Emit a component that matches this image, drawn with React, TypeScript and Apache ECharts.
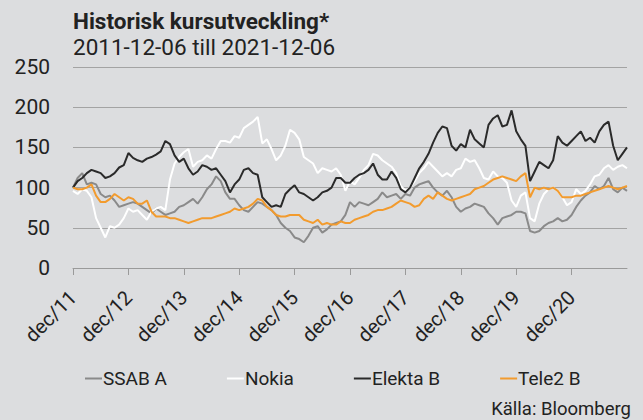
import React, { useEffect, useRef } from "react";
import * as echarts from "echarts";

const monthNames = ["dec", "jan", "feb", "mar", "apr", "maj", "jun", "jul", "aug", "sep", "okt", "nov"];
const startYear = 11;
const monthCount = 121;

const yTicks = [0, 50, 100, 150, 200, 250];

const ssab = [
  100, 112, 118, 104, 106, 104, 92, 88, 90, 84, 76, 78,
  80, 82, 80, 76, 72, 68, 74, 70, 66, 68, 70, 76,
  78, 82, 86, 80, 88, 98, 104, 114, 108, 94, 86, 86,
  78, 72, 70, 76, 82, 80, 76, 72, 66, 56, 50, 46,
  38, 36, 32, 40, 50, 52, 44, 48, 54, 56, 58, 66,
  82, 76, 82, 80, 78, 82, 86, 94, 88, 90, 92, 86,
  92, 90, 100, 104, 106, 108, 100, 94, 90, 96, 88, 76,
  70, 74, 76, 80, 78, 76, 68, 62, 54, 62, 64, 66,
  70, 70, 68, 46, 44, 46, 52, 56, 58, 62, 58, 60,
  66, 76, 84, 90, 94, 102, 98, 102, 112, 98, 94, 100,
  96,
];

const nokia = [
  96, 92, 98, 96, 88, 62, 50, 38, 52, 50, 54, 62,
  74, 70, 72, 66, 60, 70, 74, 76, 72, 110, 130, 138,
  144, 148, 126, 132, 134, 140, 136, 148, 158, 158, 156, 164,
  162, 174, 178, 182, 188, 155, 160, 148, 134, 140, 152, 172,
  168, 160, 138, 134, 130, 118, 124, 122, 120, 124, 116, 96,
  108, 104, 112, 122, 128, 142, 140, 134, 130, 126, 118, 102,
  96, 100, 108, 118, 124, 132, 126, 120, 114, 118, 114, 122,
  124, 136, 132, 134, 124, 112, 110, 120, 114, 112, 106, 84,
  76, 90, 94, 62, 58, 80, 92, 98, 100, 96, 88, 78,
  82, 98, 92, 96, 104, 114, 116, 124, 128, 122, 126, 128,
  124,
];

const elekta = [
  100, 108, 112, 118, 122, 120, 118, 112, 114, 118, 125, 128,
  143, 137, 134, 132, 136, 138, 141, 145, 158, 154, 140, 132,
  136, 124, 116, 120, 128, 126, 122, 124, 116, 108, 94, 104,
  110, 122, 124, 118, 116, 88, 82, 76, 78, 76, 92, 98,
  103, 94, 92, 88, 84, 88, 94, 96, 100, 112, 112, 106,
  106, 112, 116, 118, 122, 130, 116, 110, 110, 120, 112, 98,
  94, 100, 112, 124, 132, 142, 156, 168, 176, 174, 152, 146,
  154, 150, 172, 160, 155, 150, 178, 186, 190, 176, 178, 196,
  170, 160, 152, 108, 120, 132, 128, 124, 134, 164, 156, 152,
  158, 164, 170, 158, 162, 156, 170, 178, 182, 152, 134, 142,
  150,
];

const tele2 = [
  100, 98, 98, 100, 104, 90, 82, 82, 86, 92, 88, 84,
  88, 86, 80, 80, 84, 70, 64, 64, 64, 62, 62, 60,
  58, 56, 58, 60, 62, 62, 62, 64, 66, 68, 70, 74,
  72, 74, 76, 80, 86, 84, 76, 72, 66, 64, 64, 66,
  66, 66, 60, 58, 56, 60, 54, 56, 54, 54, 58, 56,
  56, 60, 62, 64, 66, 70, 72, 72, 74, 76, 80, 84,
  82, 80, 76, 78, 86, 90, 86, 94, 90, 86, 84, 86,
  88, 90, 92, 98, 100, 102, 106, 110, 112, 114, 112, 110,
  108, 114, 118, 88, 100, 98, 100, 98, 100, 96, 88, 88,
  88, 90, 90, 92, 94, 96, 98, 100, 102, 100, 98, 100,
  102,
];

const seriesNames = ["SSAB A", "Nokia", "Elekta B", "Tele2 B"];
const seriesColors = ["#8a8a8a", "#ffffff", "#2a2a2a", "#f29b2e"];
const seriesData = [ssab, nokia, elekta, tele2];

const categories: string[] = [];
for (let i = 0; i < monthCount; i++) {
  const yr = startYear + Math.floor((i + 11) / 12);
  categories.push(`${monthNames[i % 12]}/${String(yr).padStart(2, "0")}`);
}

const FONT = "Roboto, 'DejaVu Sans', sans-serif";

export default function App() {
  const ref = useRef<HTMLDivElement>(null);
  useEffect(() => {
    if (!ref.current) return;
    const chart = echarts.init(ref.current, null, { renderer: "svg" });
    chart.setOption({
      animation: false,
      backgroundColor: "#dcdddf",
      textStyle: { fontFamily: FONT },
      title: {
        text: "Historisk kursutveckling*",
        subtext: "2011-12-06 till 2021-12-06",
        left: 68,
        top: 4,
        itemGap: 3,
        textStyle: { fontFamily: FONT, fontSize: 22.5, fontWeight: "bold", color: "#222" },
        subtextStyle: { fontFamily: FONT, fontSize: 22.5, color: "#222" },
      },
      legend: {
        data: seriesNames,
        left: 80,
        top: 364,
        icon: "rect",
        itemWidth: 17,
        itemHeight: 2,
        itemGap: 60,
        textStyle: { fontFamily: FONT, fontSize: 19, color: "#222", padding: [0, 0, 0, -4] },
      },
      graphic: [
        {
          type: "text",
          right: 12,
          top: 399,
          style: { text: "Källa: Bloomberg", fontFamily: FONT, fontSize: 18.5, fill: "#222" },
        },
      ],
      grid: { left: 73, right: 16, top: 67, bottom: 152, containLabel: false },
      xAxis: {
        type: "category",
        data: categories,
        boundaryGap: false,
        axisLine: { lineStyle: { color: "#9a9a9a", width: 1 } },
        axisTick: {
          length: 7,
          lineStyle: { color: "#9a9a9a" },
          interval: (i: number) => i % 12 === 0 && i < 120,
        },
        axisLabel: {
          interval: (i: number) => i % 12 === 0 && i < 120,
          rotate: 45,
          margin: 26,
          fontSize: 20,
          color: "#222",
          fontFamily: FONT,
        },
        splitLine: { show: false },
      },
      yAxis: {
        type: "value",
        min: 0,
        max: yTicks[yTicks.length - 1],
        interval: 50,
        axisLine: { show: false },
        axisTick: { show: false },
        axisLabel: { fontSize: 21, color: "#222", margin: 23, fontFamily: FONT },
        splitLine: { lineStyle: { color: "#a3a3a3", width: 1 } },
      },
      series: seriesData.map((d, i) => ({
        name: seriesNames[i],
        type: "line",
        data: d,
        showSymbol: false,
        symbol: "none",
        lineStyle: { color: seriesColors[i], width: 2 },
        itemStyle: { color: seriesColors[i] },
        z: 2 + i,
      })),
    });
    return () => chart.dispose();
  }, []);
  return <div ref={ref} style={{ width: 643, height: 420, position: "absolute", left: 0, top: 0 }} />;
}
